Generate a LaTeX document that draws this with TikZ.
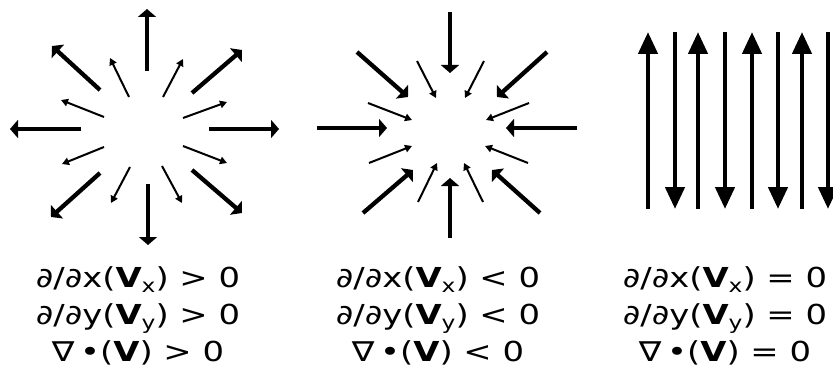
\documentclass[tikz,border=0pt]{standalone}
\usepackage{fontspec}
\usepackage{graphicx}
\setmainfont{DejaVu Sans}
\usetikzlibrary{arrows.meta}
\newcommand\vsub[1]{\raisebox{-5pt}{\fontsize{19}{19}\selectfont #1}}
\newcommand\wide[1]{\scalebox{1.23}[1]{#1}}
\begin{document}
\begin{tikzpicture}[x=1pt,y=-1pt,
 bigarrow/.style={line width=4.3pt,-{Triangle[length=8pt,width=18pt]}},
 smallarrow/.style={line width=2pt,-{Triangle[length=7pt,width=7.5pt]}},
 longarrow/.style={line width=4.5pt,-{Triangle[length=22pt,width=19pt]}},
 eq/.style={anchor=base,inner sep=0pt,font=\fontsize{27.5}{30}\selectfont}]
\useasboundingbox (0,0) rectangle (833,369);
% ---- panel 1: source ----
\draw[bigarrow] (147,71) -- (147,9);
\draw[bigarrow] (148,184) -- (148,245);
\draw[bigarrow] (81,129) -- (10,129);
\draw[bigarrow] (209,129) -- (279,129);
\draw[bigarrow] (100,90) -- (52,46);
\draw[bigarrow] (192,93) -- (242,50);
\draw[bigarrow] (100,173) -- (51,217);
\draw[bigarrow] (192,170) -- (242,213);
\draw[smallarrow] (129,97) -- (110,58);
\draw[smallarrow] (163,97) -- (183,59);
\draw[smallarrow] (104,117) -- (61,100);
\draw[smallarrow] (183,118) -- (227,102);
\draw[smallarrow] (104,147) -- (62,164);
\draw[smallarrow] (183,146) -- (227,163);
\draw[smallarrow] (130,167) -- (111,203);
\draw[smallarrow] (162,166) -- (182,203);
% ---- panel 2: sink ----
\draw[bigarrow] (450,12) -- (450,73);
\draw[bigarrow] (450,238) -- (450,178);
\draw[bigarrow] (317,128) -- (387,128);
\draw[bigarrow] (577,128) -- (506,128);
\draw[bigarrow] (357,52) -- (408,97);
\draw[bigarrow] (547,52) -- (497,97);
\draw[bigarrow] (363,213) -- (413,170);
\draw[bigarrow] (540,213) -- (492,170);
\draw[smallarrow] (417,61) -- (436,98);
\draw[smallarrow] (484,61) -- (465,98);
\draw[smallarrow] (368,103) -- (412,120);
\draw[smallarrow] (529,103) -- (486,120);
\draw[smallarrow] (369,163) -- (412,146);
\draw[smallarrow] (528,163) -- (485,146);
\draw[smallarrow] (418,202) -- (437,163);
\draw[smallarrow] (483,202) -- (464,163);
% ---- panel 3: alternating ----
\foreach \x in {648,698,752,802} \draw[longarrow] (\x,209) -- (\x,32);
\foreach \x in {675,725,778,828} \draw[longarrow] (\x,32) -- (\x,209);
% ---- equations ----
\node[eq] (a1) at (138,287) {\wide{∂/∂x(\textbf{V}\vsub{x}) > 0}};
\node[eq] (a2) at (138,324) {\wide{∂/∂y(\textbf{V}\vsub{y}) > 0}};
\node[eq] (a3) at (138,361) {\wide{∇\,•(\textbf{V}) > 0}};
\node[eq] (b1) at (438,287) {\wide{∂/∂x(\textbf{V}\vsub{x}) < 0}};
\node[eq] (b2) at (438,324) {\wide{∂/∂y(\textbf{V}\vsub{y}) < 0}};
\node[eq] (b3) at (438,361) {\wide{∇\,•(\textbf{V}) < 0}};
\node[eq] (c1) at (725,287) {\wide{∂/∂x(\textbf{V}\vsub{x}) = 0}};
\node[eq] (c2) at (725,324) {\wide{∂/∂y(\textbf{V}\vsub{y}) = 0}};
\node[eq] (c3) at (725,361) {\wide{∇\,•(\textbf{V}) = 0}};
\end{tikzpicture}
\end{document}
